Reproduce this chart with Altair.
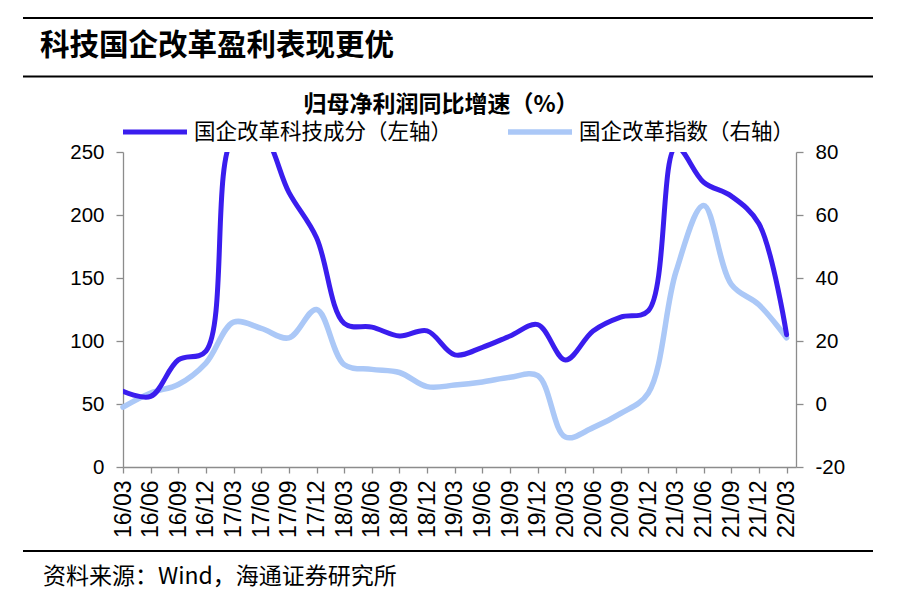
import altair as alt
import pandas as pd

# ---------------- data ----------------
quarters = ["16/03", "16/06", "16/09", "16/12", "17/03", "17/06", "17/09", "17/12",
            "18/03", "18/06", "18/09", "18/12", "19/03", "19/06", "19/09", "19/12",
            "20/03", "20/06", "20/09", "20/12", "21/03", "21/06", "21/09", "21/12",
            "22/03"]
tech_yoy = [60, 56, 85, 92, 262, 265, 218, 182,
            114, 111, 104, 108, 89, 95, 104, 113,
            85, 108, 119, 124, 254, 226, 215, 193,
            105]
index_yoy = [-1, 3.5, 6.2, 13, 26, 24, 21, 30,
             12.5, 11, 10, 5.5, 6, 7, 8.5, 9,
             -10.5, -7.5, -3, 3.5, 42, 63, 38, 31.5,
             21]
series_names = ["国企改革科技成分（左轴）", "国企改革指数（右轴）"]
page_title = ["科技国企改革盈利表现更优"]
chart_title = ["归母净利润同比增速（%）"]
source_note = ["资料来源：Wind，海通证券研究所"]
left_ticks = [0, 50, 100, 150, 200, 250]
right_ticks = [-20, 0, 20, 40, 60, 80]

# ---------------- styles ----------------
DARK = "#3A1DEE"
LIGHT = "#ABC8F7"
GREY = "#8C8C8C"
LATIN = "Liberation Sans"
CJK = "Noto Sans CJK SC"
CURVE = "catmull-rom"

df = pd.DataFrame({
    "idx": list(range(len(quarters))),
    "quarter": quarters,
    "tech": tech_yoy,
    "index": index_yoy,
})

label_expr = "[" + ",".join("'%s'" % q for q in quarters) + "][datum.value]"

x_enc = alt.X(
    "idx:Q",
    scale=alt.Scale(domain=[0, 24.34], nice=False, zero=False),
    axis=alt.Axis(
        values=list(range(len(quarters))), labelExpr=label_expr,
        labelAngle=270, labelAlign="right", labelBaseline="middle",
        labelFontSize=23, labelFont=LATIN, labelColor="black",
        labelPadding=7, tickSize=6, tickColor=GREY, tickWidth=1.3,
        domainColor=GREY, domainWidth=1.3, grid=False, title=None,
        labelOverlap=False,
    ),
)

axis_common = dict(
    labelFontSize=20.5, labelFont=LATIN, labelColor="black",
    tickSize=7, tickColor=GREY, tickWidth=1.3,
    domainColor=GREY, domainWidth=1.3, grid=False, title=None,
    labelPadding=12, labelExpr="'' + datum.value",
)

dark = alt.Chart(df).mark_line(
    color=DARK, strokeWidth=5, interpolate=CURVE, clip=True,
    strokeCap="round", strokeJoin="round",
).encode(
    x=x_enc,
    y=alt.Y("tech:Q", scale=alt.Scale(domain=[0, 250], nice=False),
            axis=alt.Axis(orient="left", values=left_ticks, **axis_common)),
)

light = alt.Chart(df).mark_line(
    color=LIGHT, strokeWidth=5.5, interpolate=CURVE,
    strokeCap="round", strokeJoin="round",
).encode(
    x=x_enc,
    y=alt.Y("index:Q", scale=alt.Scale(domain=[-20, 80], nice=False, zero=False),
            axis=alt.Axis(orient="right", values=right_ticks, **axis_common)),
)

one = pd.DataFrame({"k": [0]})


def hrule(y, x1, x2, width, color="black"):
    return alt.Chart(one).mark_rule(color=color, strokeWidth=width).encode(
        x=alt.value(x1), x2=alt.value(x2), y=alt.value(y))


def text_layer(values, x, y, size, weight="normal", align="left"):
    return alt.Chart(pd.DataFrame({"t": values})).mark_text(
        font=CJK, fontSize=size, fontWeight=weight, align=align,
        baseline="middle", color="black",
    ).encode(text="t:N", x=alt.value(x), y=alt.value(y))


top_line = hrule(-134, -100, 750, 2)
mid_line = hrule(-75.5, -100, 750, 2)
bottom_line = hrule(399, -100, 750, 2)

title_txt = text_layer(page_title, -83, -106, 29.5, weight="bold")
chart_title_txt = text_layer(chart_title, 318, -47, 23, weight="bold", align="center")
source_txt = text_layer(source_note, -80, 425, 23)

leg_dark_line = alt.Chart(one).mark_rule(color=DARK, strokeWidth=5).encode(
    x=alt.value(0), x2=alt.value(64), y=alt.value(-20))
leg_light_line = alt.Chart(one).mark_rule(color=LIGHT, strokeWidth=5.5).encode(
    x=alt.value(385), x2=alt.value(449), y=alt.value(-20))
leg_dark_txt = text_layer([series_names[0]], 71, -19, 21.5)
leg_light_txt = text_layer([series_names[1]], 456, -19, 21.5)

chart = alt.layer(
    light, dark,
    top_line, mid_line, bottom_line,
    title_txt, chart_title_txt, source_txt,
    leg_dark_line, leg_light_line, leg_dark_txt, leg_light_txt,
).resolve_scale(
    y="independent"
).properties(
    width=673, height=315,
    autosize=alt.AutoSizeParams(type="none"),
    padding={"left": 115, "top": 144, "right": 94, "bottom": 128},
).configure_view(stroke=None)

chart.save("out.html", embed_options={"renderer": "svg", "actions": False})
